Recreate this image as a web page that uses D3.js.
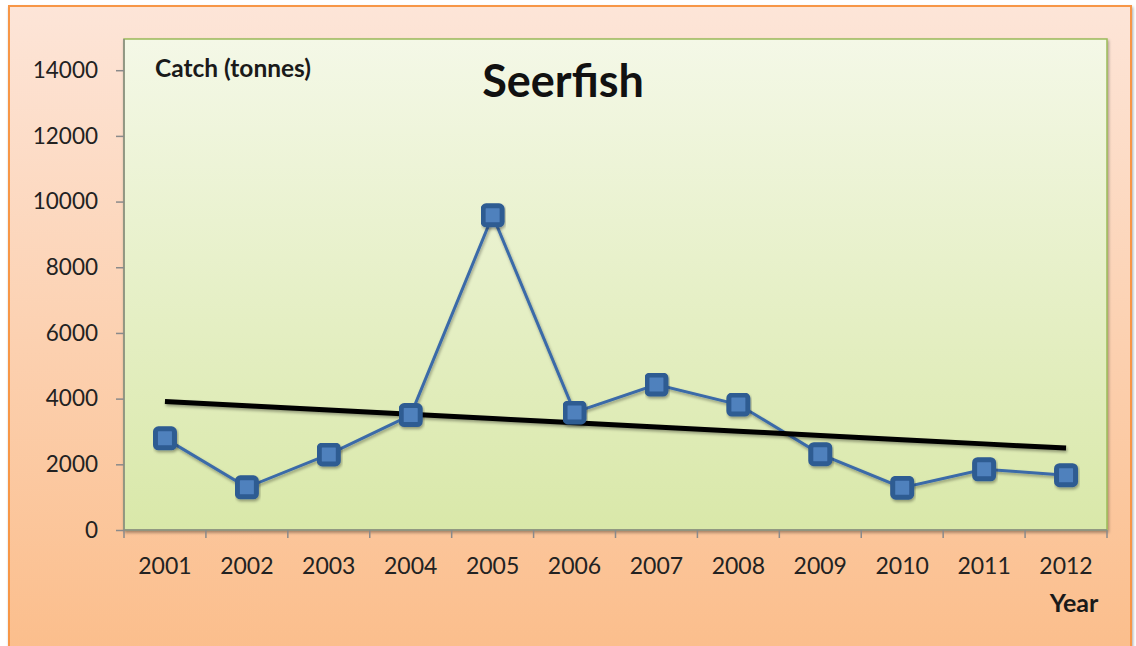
<!DOCTYPE html>
<html><head><meta charset="utf-8">
<script src="https://cdn.jsdelivr.net/npm/d3@7"></script>
<style>html,body{margin:0;padding:0;background:#fff;overflow:hidden}svg{display:block}</style>
</head><body>
<svg id="chart" width="1136" height="646"></svg>
<script>
const years = ["2001","2002","2003","2004","2005","2006","2007","2008","2009","2010","2011","2012"];
const catchTonnes = [2790,1300,2300,3500,9580,3580,4430,3820,2310,1290,1850,1670];
const yTicks = [0,2000,4000,6000,8000,10000,12000,14000];
const title = "Seerfish";
const yTitle = "Catch (tonnes)";
const xTitle = "Year";

const svg = d3.select("#chart");
const defs = svg.append("defs");
const bg = defs.append("linearGradient").attr("id","bg").attr("x1",0).attr("y1",0).attr("x2",0).attr("y2",1);
bg.append("stop").attr("offset","0%").attr("stop-color","#fde5d8");
bg.append("stop").attr("offset","100%").attr("stop-color","#fbbd8a");
const pg = defs.append("linearGradient").attr("id","pg").attr("x1",0).attr("y1",0).attr("x2",0).attr("y2",1);
pg.append("stop").attr("offset","0%").attr("stop-color","#f4f8e7");
pg.append("stop").attr("offset","100%").attr("stop-color","#d9e8a9");
const sh = defs.append("filter").attr("id","sh").attr("x","-10%").attr("y","-10%").attr("width","130%").attr("height","150%");
sh.append("feDropShadow").attr("dx",1).attr("dy",2).attr("stdDeviation",1.5).attr("flood-color","#000").attr("flood-opacity",0.35);

svg.append("rect").attr("x",0).attr("y",0).attr("width",1136).attr("height",646).attr("fill","#ffffff");
svg.append("rect").attr("x",9).attr("y",6).attr("width",1122).attr("height",660)
  .attr("fill","url(#bg)").attr("stroke","#f79646").attr("stroke-width",2).attr("filter","url(#sh)");

const m = {left:124, top:39, right:1107, bottom:530};
const x = d3.scaleBand().domain(years).range([m.left, m.right]).padding(0);
const y = d3.scaleLinear().domain([0, 14950]).range([m.bottom, m.top]);

// plot area
svg.append("rect").attr("x",m.left).attr("y",m.top).attr("width",m.right-m.left).attr("height",m.bottom-m.top)
  .attr("fill","url(#pg)").attr("stroke","#9bbb59").attr("stroke-width",1.5).attr("filter","url(#sh)");

const font = "Lato, 'Open Sans', sans-serif";

// y axis
const ya = svg.append("g").attr("transform",`translate(${m.left},0)`)
  .call(d3.axisLeft(y).tickValues(yTicks).tickSize(8).tickPadding(18).tickFormat(d3.format("d")));
ya.selectAll("text").attr("font-family",font).attr("font-size",22.5).attr("fill","#222");
ya.selectAll("line,path").attr("stroke","#8a8a8a").attr("stroke-width",1.5);
ya.select(".domain").attr("d",`M0,${m.top}V${m.bottom}`);

// x axis
const xa = svg.append("g").attr("transform",`translate(0,${m.bottom})`)
  .call(d3.axisBottom(x).tickSize(0).tickPadding(28));
xa.selectAll("text").attr("font-family",font).attr("font-size",23).attr("fill","#222");
xa.selectAll(".tick line").remove();
xa.select(".domain").attr("stroke","#8a8a8a").attr("stroke-width",1.5).attr("d",`M${m.left},0H${m.right}`);
const bounds = years.map(d => x(d)).concat([x(years[years.length-1]) + x.bandwidth()]);
xa.selectAll(".btick").data(bounds).join("line").attr("class","btick")
  .attr("x1",d=>d).attr("x2",d=>d).attr("y1",0).attr("y2",8).attr("stroke","#8a8a8a").attr("stroke-width",1.5);

const cx = d => x(d) + x.bandwidth()/2;

// series line
const line = d3.line().x((d,i)=>cx(years[i])).y(d=>y(d));
svg.append("path").datum(catchTonnes).attr("d",line).attr("fill","none")
  .attr("stroke","#3b6ba8").attr("stroke-width",3).attr("filter","url(#sh)");

// linear trendline (least squares from data)
const n = catchTonnes.length;
const xs = d3.range(1,n+1);
const mx = d3.mean(xs), my = d3.mean(catchTonnes);
const slope = d3.sum(xs.map((v,i)=>(v-mx)*(catchTonnes[i]-my))) / d3.sum(xs.map(v=>(v-mx)*(v-mx)));
const icpt = my - slope*mx;
const trend = xs.map(v => icpt + slope*v);
svg.append("path").datum(trend).attr("d",line).attr("fill","none")
  .attr("stroke","#000").attr("stroke-width",5).attr("filter","url(#sh)");

// markers
svg.selectAll(".mk").data(catchTonnes).join("rect").attr("class","mk")
  .attr("x",(d,i)=>cx(years[i])-9.5).attr("y",d=>y(d)-9.5).attr("width",19).attr("height",19).attr("rx",3)
  .attr("fill","#4f81bd").attr("stroke","#2f5b92").attr("stroke-width",5).attr("filter","url(#sh)");

// texts
svg.append("text").attr("x",155).attr("y",77).attr("font-family",font).attr("font-weight","bold")
  .attr("font-size",24.5).attr("fill","#1a1a1a").text(yTitle);
svg.append("text").attr("x",563).attr("y",97).attr("text-anchor","middle").attr("font-family",font).attr("font-weight","bold")
  .attr("font-size",45).attr("fill","#111").text(title);
svg.append("text").attr("x",1074).attr("y",612).attr("text-anchor","middle").attr("font-family",font).attr("font-weight","bold")
  .attr("font-size",25).attr("fill","#1a1a1a").text(xTitle);
</script>
</body></html>
